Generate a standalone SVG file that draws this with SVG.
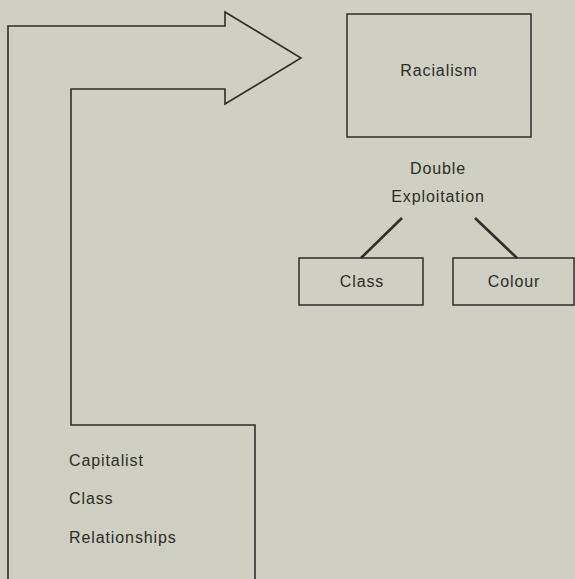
<svg xmlns="http://www.w3.org/2000/svg" width="575" height="579" viewBox="0 0 575 579">
<style>
.ln{fill:none;stroke:#2e2f2a;stroke-width:1.6;stroke-linejoin:miter}
.dg{fill:none;stroke:#2e2f2a;stroke-width:2.6}
.bx{fill:none;stroke:#2e2f2a;stroke-width:1.5}
.t{font-family:"Liberation Sans",Arial,sans-serif;font-size:16px;fill:#2c2d28;letter-spacing:0.9px}
.c{text-anchor:middle}
</style>
<rect width="575" height="579" fill="#cfd0c2"/>
<g id="connectors">
<path class="ln" d="M8,579 V26 H225 V12 L301,58 L225,104 V89 H71 V425 H255 V579"/>
<line class="dg" x1="402" y1="218" x2="361" y2="258"/>
<line class="dg" x1="475" y1="218" x2="517" y2="258"/>
</g>
<g id="capitalist">
<text class="t" x="69" y="466">Capitalist</text>
<text class="t" x="69" y="504">Class</text>
<text class="t" x="69" y="543">Relationships</text>
</g>
<g id="racialism">
<rect class="bx" x="347" y="14" width="184" height="123"/>
<text class="t c" x="439" y="76">Racialism</text>
</g>
<g id="double-exploitation">
<text class="t c" x="438" y="174">Double</text>
<text class="t c" x="438" y="202">Exploitation</text>
</g>
<g id="class">
<rect class="bx" x="299" y="258" width="124" height="47"/>
<text class="t c" x="362" y="287">Class</text>
</g>
<g id="colour">
<rect class="bx" x="453" y="258" width="121" height="47"/>
<text class="t c" x="514" y="287">Colour</text>
</g>
</svg>
